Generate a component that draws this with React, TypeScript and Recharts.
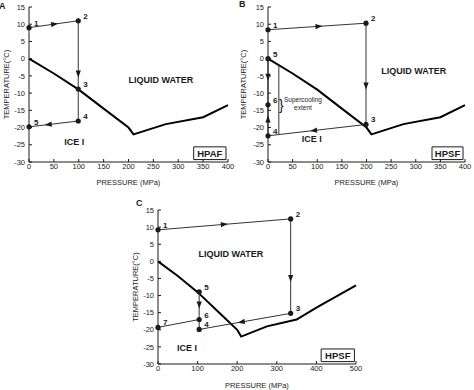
import React from "react";
import {
  ComposedChart,
  Line,
  Scatter,
  XAxis,
  YAxis,
  ReferenceArea,
  ReferenceDot,
  ReferenceLine,
} from "recharts";

// phase boundary of water (melting curve of ice I, III, V)
const BOUNDARY_P = [0, 50, 100, 150, 200, 210, 275, 350, 400, 500];
const BOUNDARY_T = [0, -4.3, -9, -14.5, -20, -22, -19, -17, -13.5, -7];

const TEMP_TICKS = [-30, -25, -20, -15, -10, -5, 0, 5, 10, 15];
const P_TICKS_400 = [0, 50, 100, 150, 200, 250, 300, 350, 400];
const P_TICKS_500 = [0, 100, 200, 300, 400, 500];

// A - HPAF
const A_LABELS = ["1", "2", "3", "4", "5"];
const A_P = [0, 99, 99, 99, 0];
const A_T = [9, 11, -8.8, -18.1, -19.8];
const A_PATHS = [["1", "2", "3", "4", "5"]];
const A_ARROWS: [string, string, number][] = [
  ["1", "2", 0.52],
  ["2", "3", 0.78],
  ["4", "5", 0.61],
];

// B - HPSF
const B_LABELS = ["1", "2", "3", "4", "5", "6"];
const B_P = [0, 199, 199, 0, 0, 0];
const B_T = [8.4, 10.3, -19.1, -22.4, 0, -13.4];
const B_PATHS = [
  ["1", "2", "3", "4"],
  ["4", "6", "5"],
];
const B_ARROWS: [string, string, number][] = [
  ["1", "2", 0.52],
  ["2", "3", 0.62],
  ["3", "4", 0.535],
  ["5", "6", 0.4],
  ["4", "6", 0.54],
];

// C - HPSF
const C_LABELS = ["1", "2", "3", "4", "5", "6", "7"];
const C_P = [0, 335, 335, 104, 104, 104, 0];
const C_T = [9.2, 12.4, -15.2, -19.9, -8.9, -17, -19.3];
const C_PATHS = [
  ["1", "2", "3", "4"],
  ["5", "6", "4"],
  ["7", "6"],
];
const C_ARROWS: [string, string, number][] = [
  ["1", "2", 0.5],
  ["2", "3", 0.63],
  ["3", "4", 0.54],
  ["5", "6", 0.48],
];

const FONT = "'Liberation Sans', Arial, sans-serif";
const INK = "#1a1a1a";

type Pt = { x: number; y: number; label: string };

const makePoints = (labels: string[], p: number[], t: number[]): Pt[] =>
  labels.map((l, i) => ({ label: l, x: p[i], y: t[i] }));

const boundary = (pMax: number) =>
  BOUNDARY_P.map((p, i) => ({ x: p, y: BOUNDARY_T[i] })).filter((d) => d.x <= pMax);

const Dot = (props: any) => {
  const { cx, cy, payload } = props;
  if (cx == null || cy == null) return null;
  return (
    <g>
      <circle cx={cx} cy={cy} r={2.6} fill={INK} />
      <text x={cx + 5} y={cy - 2} fontSize={8} fontWeight={700} fill={INK}>
        {payload.label}
      </text>
    </g>
  );
};

const Arrow = (props: any) => {
  const { cx, cy, payload } = props;
  if (cx == null || cy == null) return null;
  return (
    <polygon
      points="3.5,0 -3.5,-2.6 -3.5,2.6"
      fill={INK}
      transform={`translate(${cx},${cy}) rotate(${payload.angle})`}
    />
  );
};

type PanelProps = {
  letter: string;
  left: number;
  top: number;
  width: number;
  height: number;
  margin: { top: number; right: number; left: number; bottom: number };
  yAxisWidth: number;
  xAxisHeight: number;
  xLabelOffset: number;
  pMax: number;
  pTicks: number[];
  points: Pt[];
  paths: string[][];
  arrows: [string, string, number][];
  mode: string;
  modeBox: [number, number];
  liquidAt: [number, number];
  iceAt: [number, number];
  letterPos: [number, number];
  children?: React.ReactNode;
};

const Panel = (p: PanelProps) => {
  const plotW = p.width - p.margin.left - p.margin.right - p.yAxisWidth;
  const plotH = p.height - p.margin.top - p.margin.bottom - p.xAxisHeight;
  const pxP = plotW / p.pMax;
  const pxT = plotH / 45;
  const byLabel = (l: string) => p.points.find((d) => d.label === l)!;

  const arrowData = p.arrows.map(([a, b, t]) => {
    const s = byLabel(a);
    const e = byLabel(b);
    const dx = (e.x - s.x) * pxP;
    const dy = -(e.y - s.y) * pxT;
    return {
      x: s.x + (e.x - s.x) * t,
      y: s.y + (e.y - s.y) * t,
      angle: (Math.atan2(dy, dx) * 180) / Math.PI,
    };
  });

  const tickStyle = { fontSize: 7.5, fill: INK, fontFamily: FONT };

  return (
    <div style={{ position: "absolute", left: p.left, top: p.top }}>
      <div
        style={{
          position: "absolute",
          left: p.letterPos[0],
          top: p.letterPos[1],
          fontSize: 9,
          fontWeight: 700,
          color: INK,
          fontFamily: FONT,
        }}
      >
        {p.letter}
      </div>
      <ComposedChart width={p.width} height={p.height} margin={p.margin}>
        <XAxis
          dataKey="x"
          type="number"
          domain={[0, p.pMax]}
          ticks={p.pTicks}
          height={p.xAxisHeight}
          tickSize={-3}
          tickMargin={5}
          tick={tickStyle}
          stroke={INK}
          interval={0}
          label={{
            value: "PRESSURE (MPa)",
            position: "insideBottom",
            offset: p.xLabelOffset,
            fontSize: 7.5,
            fill: INK,
          }}
        />
        <XAxis
          xAxisId="top"
          orientation="top"
          type="number"
          domain={[0, p.pMax]}
          ticks={p.pTicks}
          height={0}
          tickSize={-3}
          tick={false}
          stroke={INK}
          interval={0}
        />
        <YAxis
          dataKey="y"
          type="number"
          domain={[-30, 15]}
          ticks={TEMP_TICKS}
          width={p.yAxisWidth}
          tickSize={-3}
          tickMargin={7}
          tick={tickStyle}
          stroke={INK}
          interval={0}
          label={{
            value: "TEMPERATURE(°C)",
            angle: -90,
            position: "insideLeft",
            offset: 6,
            fontSize: 7.5,
            fill: INK,
            style: { textAnchor: "middle" },
          }}
        />
        <YAxis
          yAxisId="right"
          orientation="right"
          type="number"
          domain={[-30, 15]}
          ticks={TEMP_TICKS}
          width={0}
          tickSize={-3}
          tick={false}
          stroke={INK}
          interval={0}
        />
        <Line
          data={boundary(p.pMax)}
          dataKey="y"
          type="linear"
          stroke="#000"
          strokeWidth={2}
          dot={false}
          isAnimationActive={false}
        />
        {p.paths.map((path, i) => (
          <Line
            key={i}
            data={path.map(byLabel)}
            dataKey="y"
            type="linear"
            stroke="#333"
            strokeWidth={1}
            dot={false}
            isAnimationActive={false}
          />
        ))}
        <Scatter data={arrowData} shape={<Arrow />} isAnimationActive={false} />
        <Scatter data={p.points} shape={<Dot />} isAnimationActive={false} />
        <ReferenceDot
          x={p.liquidAt[0]}
          y={p.liquidAt[1]}
          r={0}
          stroke="none"
          fill="none"
          label={{ value: "LIQUID WATER", position: "center", fontSize: 9, fontWeight: 700, fill: INK }}
        />
        <ReferenceDot
          x={p.iceAt[0]}
          y={p.iceAt[1]}
          r={0}
          stroke="none"
          fill="none"
          label={{ value: "ICE I", position: "center", fontSize: 9, fontWeight: 700, fill: INK }}
        />
        <ReferenceArea
          x1={p.modeBox[0]}
          x2={p.modeBox[1]}
          y1={-29.3}
          y2={-25.6}
          fill="#fff"
          fillOpacity={1}
          stroke={INK}
          strokeWidth={1}
          label={{ value: p.mode, position: "center", fontSize: 9.5, fontWeight: 700, fill: INK }}
        />
        {p.children}
      </ComposedChart>
    </div>
  );
};

export default function App() {
  return (
    <div style={{ position: "relative", width: 474, height: 390, fontFamily: FONT, background: "#fff" }}>
      <style>{`body{margin:0}`}</style>
      <Panel
        letter="A"
        left={0}
        top={0}
        width={237}
        height={195}
        margin={{ top: 7, right: 9, left: 0, bottom: 0 }}
        yAxisWidth={29}
        xAxisHeight={33}
        xLabelOffset={10}
        pMax={400}
        pTicks={P_TICKS_400}
        points={makePoints(A_LABELS, A_P, A_T)}
        paths={A_PATHS}
        arrows={A_ARROWS}
        mode="HPAF"
        modeBox={[331, 396]}
        liquidAt={[265, -6.2]}
        iceAt={[91, -24.2]}
        letterPos={[-1, 1]}
      />
      <Panel
        letter="B"
        left={237}
        top={0}
        width={237}
        height={195}
        margin={{ top: 7, right: 9, left: 0, bottom: 0 }}
        yAxisWidth={31}
        xAxisHeight={33}
        xLabelOffset={10}
        pMax={400}
        pTicks={P_TICKS_400}
        points={makePoints(B_LABELS, B_P, B_T)}
        paths={B_PATHS}
        arrows={B_ARROWS}
        mode="HPSF"
        modeBox={[333, 396]}
        liquidAt={[296, -3.4]}
        iceAt={[89, -23.3]}
        letterPos={[2, -1]}
      >
        <ReferenceLine
          segment={[
            { x: 22, y: -2.2 },
            { x: 22, y: -22 },
          ]}
          stroke="#333"
          strokeWidth={1}
        />
        <ReferenceDot
          x={27}
          y={-13.6}
          r={0}
          stroke="none"
          fill="none"
          label={{ value: "}", position: "center", fontSize: 14, fill: INK }}
        />
        <ReferenceDot
          x={71}
          y={-12}
          r={0}
          stroke="none"
          fill="none"
          label={{ value: "Supercooling", position: "center", fontSize: 6.5, fill: INK }}
        />
        <ReferenceDot
          x={71}
          y={-14.2}
          r={0}
          stroke="none"
          fill="none"
          label={{ value: "extent", position: "center", fontSize: 6.5, fill: INK }}
        />
      </Panel>
      <Panel
        letter="C"
        left={129}
        top={195}
        width={237}
        height={195}
        margin={{ top: 15, right: 10, left: 0, bottom: 0 }}
        yAxisWidth={29}
        xAxisHeight={26}
        xLabelOffset={2.5}
        pMax={500}
        pTicks={P_TICKS_500}
        points={makePoints(C_LABELS, C_P, C_T)}
        paths={C_PATHS}
        arrows={C_ARROWS}
        mode="HPSF"
        modeBox={[412, 496]}
        liquidAt={[184, 2.1]}
        iceAt={[73, -25.3]}
        letterPos={[7, 3]}
      />
    </div>
  );
}
